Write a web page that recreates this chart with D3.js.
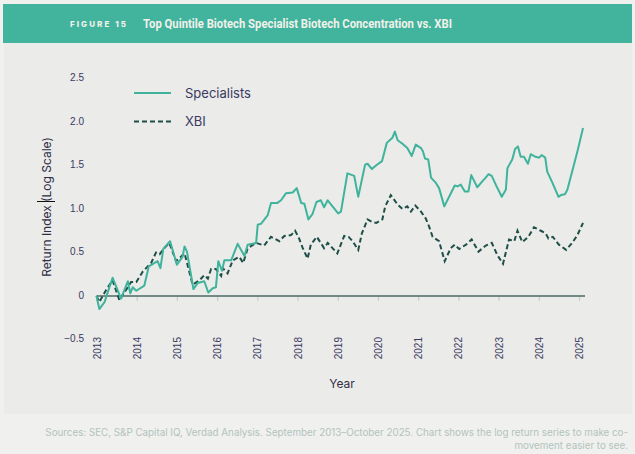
<!DOCTYPE html>
<html>
<head>
<meta charset="utf-8">
<script src="https://cdn.jsdelivr.net/npm/d3@7"></script>
<style>
  body { margin: 0; background: #f0f0ee; }
  svg { display: block; }
</style>
</head>
<body>
<div id="chart"></div>
<script>
// series (decimal years, log return)
const specDates = [2013.0, 2013.07, 2013.20, 2013.40, 2013.61, 2013.78, 2013.84, 2013.90, 2013.99, 2014.19,
  2014.30, 2014.52, 2014.59, 2014.66, 2014.83, 2015.00, 2015.14, 2015.19, 2015.25, 2015.41,
  2015.52, 2015.68, 2015.78, 2015.89, 2015.97, 2016.03, 2016.12, 2016.18, 2016.35, 2016.51,
  2016.68, 2016.76, 2016.97, 2017.01, 2017.09, 2017.26, 2017.34, 2017.50, 2017.59, 2017.71,
  2017.88, 2017.98, 2018.09, 2018.17, 2018.27, 2018.37, 2018.47, 2018.58, 2018.66, 2018.75,
  2018.87, 2019.01, 2019.08, 2019.24, 2019.41, 2019.51, 2019.68, 2019.74, 2019.85, 2019.95,
  2020.10, 2020.22, 2020.36, 2020.42, 2020.49, 2020.61, 2020.73, 2020.84, 2020.94, 2021.07,
  2021.12, 2021.17, 2021.25, 2021.32, 2021.44, 2021.52, 2021.65, 2021.77, 2021.91, 2021.98,
  2022.06, 2022.16, 2022.25, 2022.32, 2022.47, 2022.60, 2022.68, 2022.75, 2022.83, 2022.95,
  2023.08, 2023.18, 2023.22, 2023.34, 2023.41, 2023.48, 2023.55, 2023.63, 2023.73, 2023.80,
  2023.92, 2024.01, 2024.07, 2024.16, 2024.21, 2024.34, 2024.49, 2024.55, 2024.65, 2024.71,
  2024.83, 2024.96, 2025.10];
const specValues = [0.00, -0.15, -0.07, 0.21, -0.03, 0.17, 0.03, 0.10, 0.06, 0.12,
  0.34, 0.40, 0.32, 0.54, 0.63, 0.36, 0.45, 0.57, 0.51, 0.08,
  0.15, 0.17, 0.04, 0.09, 0.10, 0.40, 0.29, 0.41, 0.41, 0.60,
  0.46, 0.59, 0.61, 0.82, 0.83, 0.93, 1.07, 1.07, 1.10, 1.18,
  1.19, 1.24, 1.07, 1.06, 0.88, 0.94, 1.08, 1.10, 1.02, 1.10,
  1.03, 0.95, 0.97, 1.41, 1.38, 1.14, 1.51, 1.52, 1.46, 1.50,
  1.55, 1.76, 1.82, 1.89, 1.79, 1.75, 1.70, 1.61, 1.74, 1.70,
  1.66, 1.58, 1.57, 1.36, 1.30, 1.24, 1.03, 1.14, 1.27, 1.26,
  1.28, 1.20, 1.20, 1.39, 1.25, 1.32, 1.36, 1.40, 1.38, 1.26,
  1.14, 1.22, 1.47, 1.57, 1.69, 1.72, 1.60, 1.60, 1.52, 1.63,
  1.60, 1.59, 1.62, 1.59, 1.43, 1.30, 1.14, 1.16, 1.17, 1.22,
  1.43, 1.66, 1.93];

const xbiDates = [2013.0, 2013.07, 2013.24, 2013.40, 2013.57, 2013.65, 2013.86, 2013.99, 2014.15, 2014.36,
  2014.48, 2014.57, 2014.69, 2014.81, 2014.98, 2015.19, 2015.39, 2015.56, 2015.68, 2015.77,
  2015.85, 2015.97, 2016.10, 2016.14, 2016.26, 2016.39, 2016.55, 2016.65, 2016.76, 2016.97,
  2017.17, 2017.34, 2017.55, 2017.67, 2017.84, 2017.94, 2018.04, 2018.13, 2018.25, 2018.33,
  2018.48, 2018.66, 2018.75, 2018.87, 2018.99, 2019.16, 2019.27, 2019.37, 2019.51, 2019.60,
  2019.74, 2019.86, 2019.96, 2020.11, 2020.18, 2020.32, 2020.49, 2020.61, 2020.73, 2020.82,
  2020.93, 2021.07, 2021.19, 2021.27, 2021.36, 2021.52, 2021.66, 2021.81, 2021.91, 2022.02,
  2022.19, 2022.33, 2022.50, 2022.68, 2022.83, 2022.97, 2023.11, 2023.26, 2023.39, 2023.47,
  2023.59, 2023.74, 2023.88, 2024.05, 2024.17, 2024.24, 2024.35, 2024.50, 2024.68, 2024.83,
  2024.96, 2025.10];
const xbiValues = [0.00, -0.07, 0.07, 0.18, -0.05, 0.01, 0.16, 0.16, 0.28, 0.38,
  0.50, 0.48, 0.55, 0.61, 0.40, 0.49, 0.13, 0.18, 0.24, 0.20,
  0.31, 0.31, 0.23, 0.32, 0.26, 0.41, 0.45, 0.38, 0.55, 0.61,
  0.58, 0.68, 0.63, 0.69, 0.70, 0.75, 0.66, 0.55, 0.43, 0.59,
  0.68, 0.55, 0.61, 0.55, 0.49, 0.69, 0.68, 0.63, 0.53, 0.72,
  0.88, 0.85, 0.84, 0.88, 1.03, 1.16, 1.05, 1.00, 1.03, 0.97,
  1.04, 0.97, 0.89, 0.80, 0.68, 0.63, 0.40, 0.55, 0.59, 0.54,
  0.59, 0.65, 0.51, 0.58, 0.61, 0.47, 0.37, 0.65, 0.63, 0.75,
  0.62, 0.68, 0.79, 0.75, 0.72, 0.66, 0.68, 0.59, 0.53, 0.61,
  0.70, 0.84];

const yearTicks = d3.range(2013, 2026);
const yTicks = [-0.5, 0, 0.5, 1.0, 1.5, 2.0, 2.5];
const legendNames = ["Specialists", "XBI"];

const W = 635, H = 454;
const teal = "#3fb39b", dark = "#1e4f48", ink = "#3a3a62";

const svg = d3.select("#chart").append("svg")
  .attr("width", W)
  .attr("height", H)
  .style("font-family", "Inter, 'Noto Sans', sans-serif");

// panel + header band
svg.append("rect").attr("x", 4).attr("y", 4).attr("width", 628).attr("height", 410).attr("fill", "#ebebe9");
svg.append("rect").attr("x", 3).attr("y", 4).attr("width", 629).attr("height", 39).attr("fill", "#42b39d");

svg.append("text")
  .attr("x", 70).attr("y", 27)
  .attr("fill", "#f1f1ea")
  .attr("textLength", 56).attr("lengthAdjust", "spacing")
  .style("font-size", "8px").style("font-weight", "800")
  .text("FIGURE 15");

svg.append("text")
  .attr("x", 143).attr("y", 28)
  .attr("fill", "#f1f1ea")
  .attr("textLength", 309).attr("lengthAdjust", "spacingAndGlyphs")
  .style("font-family", "'Liberation Sans Narrow', Roboto, sans-serif")
  .style("font-size", "12.5px").style("font-weight", "bold")
  .text("Top Quintile Biotech Specialist Biotech Concentration vs. XBI");

const x = d3.scaleLinear().domain([2013, 2025]).range([96.5, 579]);
const y = d3.scaleLinear().domain([-0.5, 2.5]).range([339.5, 78.5]);

// y tick labels (no axis line)
const yAxis = svg.append("g")
  .attr("transform", "translate(84,0)")
  .call(d3.axisLeft(y).tickValues(yTicks).tickSize(0).tickPadding(0)
    .tickFormat(d => d === 0 ? "0" : d3.format(".1f")(d)));
yAxis.select(".domain").remove();
yAxis.selectAll("text")
  .attr("fill", ink).attr("dy", "0.2em")
  .style("font-size", "10px").style("font-family", "'Liberation Sans', Arial, sans-serif");

// x axis at zero
const xAxis = svg.append("g")
  .attr("transform", `translate(0,${y(0)})`)
  .call(d3.axisBottom(x).tickValues(yearTicks).tickSize(5).tickSizeOuter(0).tickFormat(d3.format("d")));
xAxis.select(".domain").remove();
xAxis.selectAll(".tick line").attr("stroke", "#c9cbc8").attr("stroke-width", 1.2);
xAxis.selectAll("text")
  .attr("transform", "rotate(-90)")
  .attr("x", -41).attr("y", 0).attr("dy", "0.35em")
  .attr("fill", ink)
  .style("text-anchor", "end")
  .style("font-size", "10px").style("font-family", "'Liberation Sans', Arial, sans-serif");

svg.append("line")
  .attr("x1", x(2013)).attr("x2", x(2025.15))
  .attr("y1", y(0)).attr("y2", y(0))
  .attr("stroke", "#4b6a64").attr("stroke-width", 1.5);

// series lines
const line = d3.line().x(d => x(d[0])).y(d => y(d[1]));

svg.append("path")
  .datum(xbiDates.map((d, i) => [d, xbiValues[i]]))
  .attr("fill", "none").attr("stroke", dark).attr("stroke-width", 2)
  .attr("stroke-dasharray", "5,3")
  .attr("d", line);

svg.append("path")
  .datum(specDates.map((d, i) => [d, specValues[i]]))
  .attr("fill", "none").attr("stroke", teal).attr("stroke-width", 2)
  .attr("stroke-linejoin", "round")
  .attr("d", line);

// legend
const legend = svg.append("g").attr("transform", "translate(134,93)");
legendNames.forEach((name, i) => {
  const g = legend.append("g").attr("transform", `translate(0,${i * 28.5})`);
  g.append("line").attr("x1", 0).attr("x2", 37)
    .attr("stroke", i === 0 ? teal : dark).attr("stroke-width", 2)
    .attr("stroke-dasharray", i === 0 ? null : "5,3");
  g.append("text").attr("x", 51).attr("dy", "0.36em")
    .attr("fill", ink).style("font-size", "13px")
    .text(name);
});

// axis titles
svg.append("text")
  .attr("x", 342).attr("y", 388)
  .attr("fill", "#2f2f48").attr("text-anchor", "middle")
  .style("font-size", "12px")
  .text("Year");

svg.append("text")
  .attr("transform", "translate(51,207) rotate(-90)")
  .attr("fill", "#2f2f48").attr("text-anchor", "middle")
  .style("font-size", "12px")
  .text("Return Index (Log Scale)");

// stray cursor mark beside the label
svg.append("line")
  .attr("x1", 37).attr("x2", 55).attr("y1", 201.5).attr("y2", 201.5)
  .attr("stroke", "#111").attr("stroke-width", 1);

// footnote
const foot = svg.append("text")
  .attr("fill", "#b2c3be").attr("text-anchor", "end")
  .style("font-size", "9.8px");
foot.append("tspan").attr("x", 628).attr("y", 436)
  .text("Sources: SEC, S&P Capital IQ, Verdad Analysis. September 2013–October 2025. Chart shows the log return series to make co-");
foot.append("tspan").attr("x", 628).attr("y", 449)
  .text("movement easier to see.");
</script>
</body>
</html>
